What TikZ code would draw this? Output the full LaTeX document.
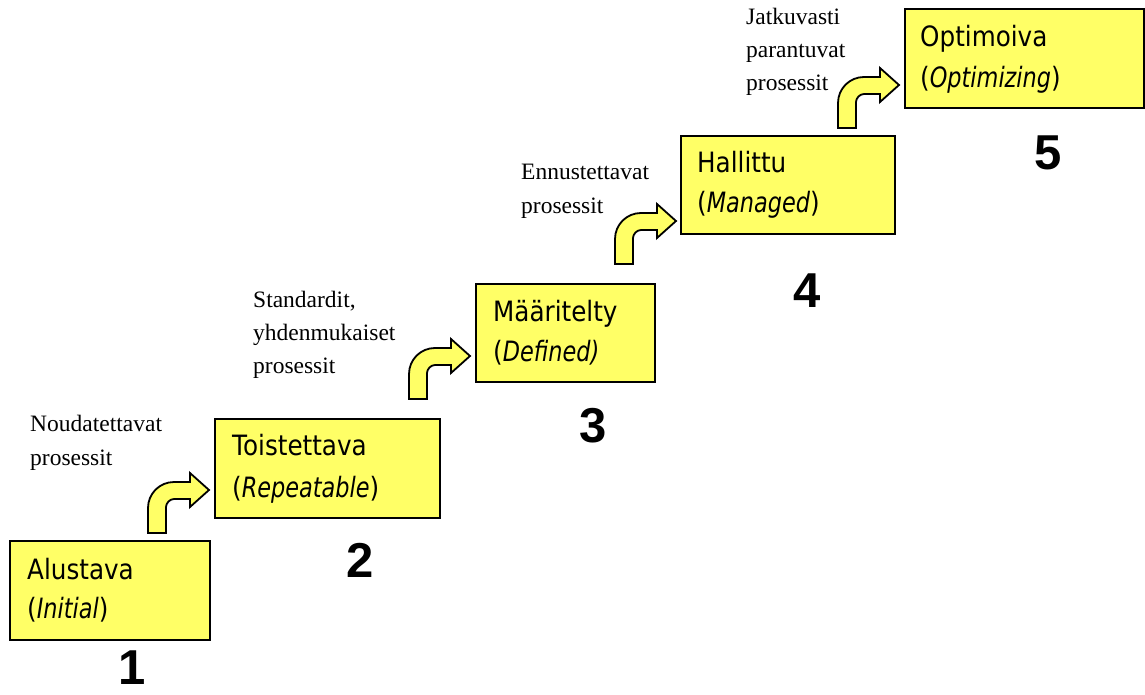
\documentclass[tikz,border=0pt]{standalone}
\usepackage{fontspec}
\newfontfamily\boxfont{DejaVu Sans}[FakeStretch=0.88]
\newfontfamily\boxitfont{DejaVu Sans}[FakeStretch=0.80]
\newfontfamily\notefont{Liberation Serif}
\newfontfamily\numfont{Liberation Sans}
\definecolor{stepyellow}{RGB}{255,255,102}
\begin{document}
\begin{tikzpicture}[x=1pt,y=-1pt,
  stepbox/.style={draw=black,line width=1.8pt,fill=stepyellow,anchor=north west,inner sep=0pt},
  boxtext/.style={anchor=base west,inner sep=0pt,font=\boxfont\fontsize{28}{30}\selectfont},
  note/.style={anchor=base west,inner sep=0pt,font=\notefont\fontsize{23.5}{33.5}\selectfont},
  levelnum/.style={anchor=base,inner sep=0pt,font=\numfont\bfseries\fontsize{49}{50}\selectfont},
  arrowline/.style={draw=black,line width=1.8pt,fill=stepyellow,line join=miter},
  bentarrow/.pic={
    \path[arrowline] (0,0) -- (0,-25)
      .. controls (0,-39.4) and (11.6,-51) .. (26,-51)
      -- (42,-51) -- (42,-60) -- (61,-43) -- (42,-26) -- (42,-34) -- (26,-34)
      .. controls (21.6,-34) and (18,-29.6) .. (18,-26)
      -- (18,0) -- cycle;
  }]
\useasboundingbox (0,0) rectangle (1145,695);

% level boxes
\node[stepbox,minimum width=200pt,minimum height=99pt] (b1) at (9,540) {};
\node[stepbox,minimum width=225pt,minimum height=99pt] (b2) at (214,418) {};
\node[stepbox,minimum width=179pt,minimum height=98pt] (b3) at (475,283) {};
\node[stepbox,minimum width=214pt,minimum height=98pt] (b4) at (680,135) {};
\node[stepbox,minimum width=239pt,minimum height=99pt] (b5) at (904,8) {};

% box texts
\node[boxtext] (t1a) at ([shift={(18,39)}]b1.north west) {Alustava};
\node[boxtext] (t1b) at ([shift={(18,78)}]b1.north west) {({\boxitfont\itshape Initial})};
\node[boxtext] (t2a) at ([shift={(18,37)}]b2.north west) {Toistettava};
\node[boxtext] (t2b) at ([shift={(18,79)}]b2.north west) {({\boxitfont\itshape Repeatable})};
\node[boxtext] (t3a) at ([shift={(18,38)}]b3.north west) {Määritelty};
\node[boxtext] (t3b) at ([shift={(18,78)}]b3.north west) {({\boxitfont\itshape Defined)}};
\node[boxtext] (t4a) at ([shift={(17,38)}]b4.north west) {Hallittu};
\node[boxtext] (t4b) at ([shift={(17,77)}]b4.north west) {({\boxitfont\itshape Managed})};
\node[boxtext] (t5a) at ([shift={(16,39)}]b5.north west) {Optimoiva};
\node[boxtext] (t5b) at ([shift={(16,80)}]b5.north west) {({\boxitfont\itshape Optimizing})};

% level numbers
\node[levelnum] (n1) at (132,684) {1};
\node[levelnum] (n2) at (360,577) {2};
\node[levelnum] (n3) at (593,442) {3};
\node[levelnum] (n4) at (807,307) {4};
\node[levelnum] (n5) at (1048,170) {5};

% notes between levels
\node[note] (l1a) at (30,431) {Noudatettavat};
\node[note] (l1b) at (30,465) {prosessit};
\node[note] (l2a) at (253,307) {Standardit,};
\node[note] (l2b) at (253,340) {yhdenmukaiset};
\node[note] (l2c) at (253,373) {prosessit};
\node[note] (l3a) at (521,180) {Ennustettavat};
\node[note] (l3b) at (521,214) {prosessit};
\node[note] (l4a) at (746,25) {Jatkuvasti};
\node[note] (l4b) at (746,58) {parantuvat};
\node[note] (l4c) at (746,91) {prosessit};

% bent arrows leading up to the next level
\coordinate (a1) at (148,533);
\coordinate (a2) at (409,399);
\coordinate (a3) at (615,264);
\coordinate (a4) at (838,128);
\pic at (a1) {bentarrow};
\pic at (a2) {bentarrow};
\pic at (a3) {bentarrow};
\pic at (a4) {bentarrow};
\end{tikzpicture}
\end{document}
